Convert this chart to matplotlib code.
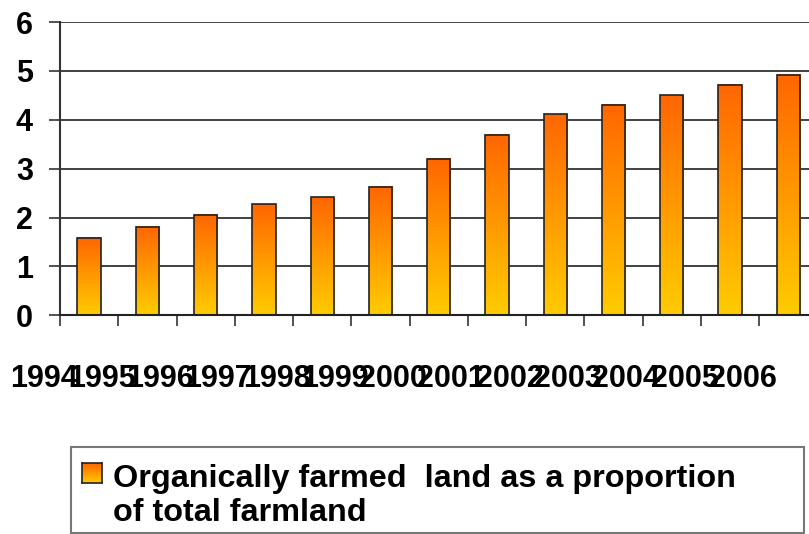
import numpy as np
import matplotlib
matplotlib.use('Agg')
import matplotlib.pyplot as plt
from matplotlib.patches import Rectangle

# Data
years = ['1994', '1995', '1996', '1997', '1998', '1999', '2000',
         '2001', '2002', '2003', '2004', '2005', '2006']
share = [1.58, 1.81, 2.05, 2.27, 2.41, 2.62, 3.20,
         3.69, 4.11, 4.31, 4.50, 4.72, 4.91]
legend_lines = ['Organically farmed  land as a proportion', 'of total farmland']

plt.rcParams['font.family'] = ['Liberation Sans', 'DejaVu Sans']
plt.rcParams['font.weight'] = 'bold'

W, H = 809, 534
fig = plt.figure(figsize=(W / 100, H / 100), dpi=100)
# axes spans a bit past the right edge like the original
ax = fig.add_axes([60 / W, (H - 315.3) / H, 757.5 / W, 293.3 / H])

# gradient orange (top) -> yellow (bottom)
grad = np.linspace(0, 1, 256).reshape(-1, 1)
cmap = matplotlib.colors.LinearSegmentedColormap.from_list('og', ['#FFCC00', '#FF6600'])

x = np.arange(len(years))
bw = 0.4
bars = ax.bar(x, share, width=bw, facecolor='none', edgecolor='#222222', linewidth=1.2, zorder=3)
for b in bars:
    x0, y1 = b.get_x(), b.get_height()
    ax.imshow(grad, extent=[x0, x0 + bw, 0, y1], origin='lower', aspect='auto',
              cmap=cmap, zorder=2, interpolation='bicubic')

ax.set_xlim(-0.5, len(years) - 0.5)
ax.set_ylim(0, 6)
ax.set_yticks(range(0, 7))
ax.yaxis.grid(True, color='#333333', linewidth=1.3, zorder=0)
ax.set_axisbelow(True)

# category ticks on the boundaries
ax.set_xticks(np.arange(len(years) + 1) - 0.5)
ax.set_xticklabels([])
ax.tick_params(axis='x', length=8, width=1.2, color='#333333', direction='out')
ax.tick_params(axis='y', length=8, width=1.2, color='#333333', labelsize=22, pad=11.5)
for lab in ax.get_yticklabels():
    lab.set_fontweight('bold')

# year labels (shifted left like in the original)
trans = matplotlib.transforms.blended_transform_factory(ax.transData, fig.transFigure)
for i, yr in enumerate(years):
    ax.text(i - 0.783, (H - 379) / H, yr, transform=trans, ha='center', va='center',
            fontsize=22, fontweight='bold', clip_on=False)

for s in ['top', 'right']:
    ax.spines[s].set_visible(False)
ax.spines['left'].set_color('#333333')
ax.spines['left'].set_linewidth(1.5)
ax.spines['bottom'].set_color('#222222')
ax.spines['bottom'].set_linewidth(1.5)

# legend box
fig.patches.append(Rectangle((71 / W, (H - 533) / H), (804 - 71) / W, 86 / H,
                             transform=fig.transFigure, facecolor='white',
                             edgecolor='#777777', linewidth=1.5, zorder=0))
sw = fig.add_axes([82 / W, (H - 483) / H, 20 / W, 20 / H], zorder=5)
sw.imshow(grad, origin='lower', aspect='auto', cmap=cmap, interpolation='bicubic')
sw.set_xticks([])
sw.set_yticks([])
for s in sw.spines.values():
    s.set_color('#222222')
    s.set_linewidth(1.2)

# size the legend text so the first line spans the same width as the original
t1 = fig.text(113 / W, (H - 487) / H, legend_lines[0], fontsize=20, fontweight='bold',
              ha='left', va='baseline')
fig.canvas.draw()
wpx = t1.get_window_extent().width
fs = 20 * 622 / wpx
t1.set_fontsize(fs)
fig.text(113 / W, (H - 521) / H, legend_lines[1], fontsize=fs, fontweight='bold',
         ha='left', va='baseline')

fig.savefig('out.png', dpi=100)
